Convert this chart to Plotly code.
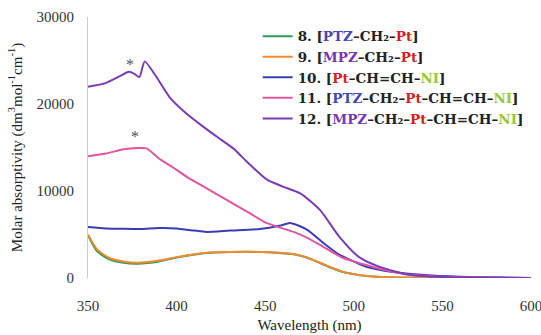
import plotly.graph_objects as go

wl12 = [350, 360, 368, 373, 376, 379, 382, 388, 396, 405, 415, 423, 432, 440, 451, 460, 470, 481, 492, 503, 515, 532, 550, 575, 600]
v12 = [21990, 22400, 23200, 23700, 23500, 23100, 24900, 23300, 20800, 19000, 17400, 16200, 14900, 13300, 11300, 10500, 9700, 7800, 4700, 2400, 1250, 340, 120, 50, 0]

wl11 = [350, 360, 370, 378, 383, 391, 398, 406, 417, 428, 440, 451, 466, 473, 481, 494, 505, 513, 530, 550, 575, 600]
v11 = [14000, 14300, 14800, 14950, 14900, 13600, 12700, 11600, 10300, 9000, 7600, 6300, 5300, 4700, 3800, 2300, 1600, 1150, 400, 150, 60, 0]

wl10 = [350, 360, 370, 380, 390, 400, 410, 417, 430, 447, 458, 464, 469, 474, 483, 492, 500, 507, 522, 540, 560, 580, 600]
v10 = [5860, 5700, 5650, 5630, 5750, 5700, 5450, 5300, 5450, 5630, 6000, 6320, 6000, 5500, 4000, 2650, 1900, 1300, 700, 350, 150, 60, 0]

wl9 = [350, 355, 362, 370, 378, 390, 400, 417, 430, 447, 458, 466, 473, 481, 488, 494, 503, 513, 530, 550, 600]
v9 = [5000, 3300, 2300, 1900, 1750, 2000, 2400, 2900, 3000, 3000, 2900, 2750, 2400, 1750, 1150, 700, 350, 150, 50, 20, 0]

wl8 = [350, 355, 362, 370, 378, 390, 400, 417, 430, 447, 458, 466, 473, 481, 488, 494, 503, 513, 530, 550, 600]
v8 = [4900, 3100, 2150, 1750, 1650, 1900, 2350, 2870, 2980, 2990, 2880, 2730, 2380, 1720, 1120, 680, 330, 140, 40, 15, 0]

star_x = [373.5, 376.5]
star_y = [24500, 16300]

x_ticks = [350, 400, 450, 500, 550, 600]
y_ticks = [0, 10000, 20000, 30000]
y_tick_text = ["0", "10000", "20000", "30000"]

SERIF = "Liberation Serif, Times New Roman, serif"
LEGF = "DejaVu Serif, serif"
BLUE = "#4646b4"
PURP = "#7a35b0"
RED = "#d42020"
GRN = "#9ac832"

def sp(t, c):
    return f"<span style='color:{c}'>{t}</span>"

names = [
    f"<b>8. [{sp('PTZ', BLUE)}–CH₂–{sp('Pt', RED)}]</b>",
    f"<b>9. [{sp('MPZ', PURP)}–CH₂–{sp('Pt', RED)}]</b>",
    f"<b>10. [{sp('Pt', RED)}–CH=CH–{sp('NI', GRN)}]</b>",
    f"<b>11. [{sp('PTZ', BLUE)}–CH₂–{sp('Pt', RED)}–CH=CH–{sp('NI', GRN)}]</b>",
    f"<b>12. [{sp('MPZ', PURP)}–CH₂–{sp('Pt', RED)}–CH=CH–{sp('NI', GRN)}]</b>",
]

series = [
    (wl8, v8, "#2e9a5a"),
    (wl9, v9, "#f28a30"),
    (wl10, v10, "#3d3db3"),
    (wl11, v11, "#e0559f"),
    (wl12, v12, "#7b3db5"),
]

fig = go.Figure()
for (x, y, c), n in zip(series, names):
    fig.add_trace(go.Scatter(x=x, y=y, mode="lines", name=n,
                             line=dict(color=c, width=2, shape="spline", smoothing=0.6)))

for sx, sy in zip(star_x, star_y):
    fig.add_annotation(x=sx, y=sy, text="*", showarrow=False,
                       font=dict(size=16, color="#555", family=SERIF))

fig.update_layout(
    width=541, height=335,
    margin=dict(l=88, r=10, t=17, b=57),
    paper_bgcolor="white", plot_bgcolor="white",
    font=dict(family=SERIF, size=15, color="#222"),
    legend=dict(x=0.383, y=0.985, xanchor="left", yanchor="top",
                bgcolor="rgba(0,0,0,0)", font=dict(size=13.5, color="#222", family=LEGF),
                tracegroupgap=0, itemwidth=30),
    showlegend=True,
)
fig.update_xaxes(range=[350, 600], tickvals=x_ticks, showgrid=False, zeroline=False,
                 showline=False, ticks="outside", ticklen=14, tickcolor="rgba(0,0,0,0)",
                 ticklabeloverflow="allow", automargin=False,
                 title=dict(text="Wavelength (nm)", font=dict(size=15, family=SERIF), standoff=6),
                 tickfont=dict(size=15, color="#333", family=SERIF))
fig.update_yaxes(range=[0, 30000], tickvals=y_ticks, ticktext=y_tick_text,
                 showgrid=False, zeroline=False, automargin=False,
                 showline=True, linecolor="#cccccc", linewidth=1,
                 ticks="outside", ticklen=10, tickcolor="rgba(0,0,0,0)",
                 title=dict(text="Molar absorptivity (dm<sup>3</sup>mol<sup>-1</sup>cm<sup>-1</sup>)",
                            font=dict(size=15, family=SERIF), standoff=10),
                 tickfont=dict(size=15, color="#333", family=SERIF))

fig.write_html("out.html")
